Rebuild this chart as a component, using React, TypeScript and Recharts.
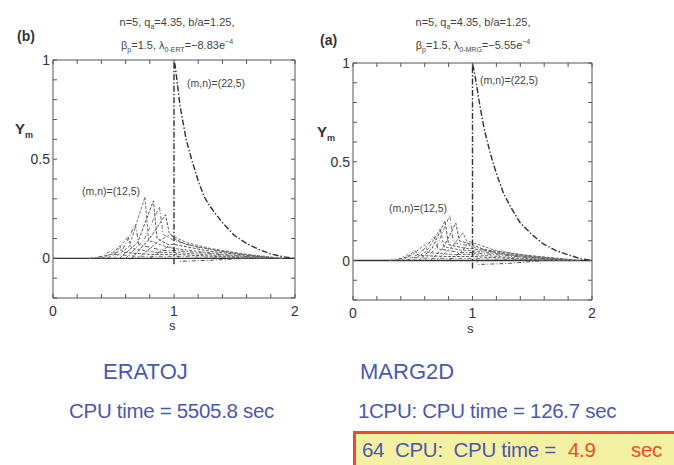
import { LineChart, Line, XAxis, YAxis, ReferenceLine } from "recharts"

type Pt = [number, number]

// axis ticks
const sTicks = [0, 0.2, 0.4, 0.6, 0.8, 1, 1.2, 1.4, 1.6, 1.8, 2]
const sLabels = [0, 1, 2]
const yTicks = [-0.2, -0.1, 0, 0.1, 0.2, 0.3, 0.4, 0.5, 0.6, 0.7, 0.8, 0.9, 1]
const yLabels = [0, 0.5, 1]

// ERATOJ (b): [s, Y_m]
const eraBig: Pt[] = [[1, -0.03], [1, 1], [1.01, 0.97], [1.05, 0.77], [1.1, 0.6], [1.15, 0.49], [1.2, 0.39], [1.25, 0.31], [1.3, 0.26], [1.4, 0.18], [1.5, 0.115], [1.6, 0.075], [1.7, 0.045], [1.8, 0.022], [1.9, 0.008], [2, 0]]
const eraM8: Pt[] = [[0.3, 0], [0.4, 0.01], [0.47, 0.035], [0.5, 0.02], [0.7, 0.01], [1, 0.01], [1.3, 0.005], [1.6, 0]]
const eraM9: Pt[] = [[0.35, 0], [0.48, 0.02], [0.55, 0.06], [0.58, 0.03], [0.8, 0.02], [1, 0.02], [1.4, 0.008], [1.7, 0]]
const eraM10: Pt[] = [[0.4, 0], [0.52, 0.03], [0.62, 0.11], [0.65, 0.05], [0.85, 0.03], [1, 0.03], [1.4, 0.012], [1.75, 0]]
const eraM11: Pt[] = [[0.45, 0], [0.58, 0.05], [0.68, 0.17], [0.71, 0.07], [0.9, 0.04], [1, 0.04], [1.4, 0.018], [1.8, 0]]
const eraM12: Pt[] = [[0.5, 0], [0.63, 0.06], [0.76, 0.31], [0.79, 0.09], [0.93, 0.06], [1, 0.05], [1.4, 0.02], [1.8, 0]]
const eraM13: Pt[] = [[0.55, 0], [0.7, 0.08], [0.83, 0.29], [0.86, 0.1], [0.95, 0.07], [1, 0.07], [1.3, 0.035], [1.6, 0.015], [1.85, 0]]
const eraM14: Pt[] = [[0.6, 0], [0.75, 0.09], [0.88, 0.26], [0.91, 0.12], [1, 0.09], [1.2, 0.055], [1.5, 0.025], [1.85, 0]]
const eraM15: Pt[] = [[0.65, 0], [0.8, 0.1], [0.93, 0.22], [0.96, 0.13], [1, 0.1], [1.1, 0.07], [1.4, 0.035], [1.7, 0.01], [1.9, 0]]
const eraM16: Pt[] = [[0.7, 0], [0.88, 0.09], [0.97, 0.12], [1, 0.11], [1.1, 0.08], [1.3, 0.05], [1.6, 0.02], [1.9, 0]]
const eraM17: Pt[] = [[0.8, 0], [0.95, 0.06], [1, 0.05], [1.05, -0.015], [1.3, -0.01], [1.6, 0]]

// MARG2D (a): [s, Y_m]
const mrgBig: Pt[] = [[1, -0.04], [1, 1], [1.02, 0.94], [1.06, 0.79], [1.1, 0.66], [1.15, 0.54], [1.2, 0.44], [1.26, 0.34], [1.32, 0.27], [1.4, 0.19], [1.5, 0.13], [1.59, 0.085], [1.7, 0.05], [1.82, 0.025], [1.9, 0.01], [2, 0]]
const mrgM8: Pt[] = [[0.3, 0], [0.4, 0.01], [0.45, 0.03], [0.48, 0.015], [0.7, 0.01], [1, 0.01], [1.3, 0.005], [1.6, 0]]
const mrgM9: Pt[] = [[0.35, 0], [0.46, 0.02], [0.52, 0.05], [0.55, 0.025], [0.8, 0.02], [1, 0.02], [1.4, 0.008], [1.7, 0]]
const mrgM10: Pt[] = [[0.4, 0], [0.5, 0.03], [0.6, 0.08], [0.63, 0.04], [0.85, 0.03], [1, 0.03], [1.4, 0.012], [1.75, 0]]
const mrgM11: Pt[] = [[0.45, 0], [0.57, 0.04], [0.68, 0.12], [0.71, 0.06], [0.9, 0.04], [1, 0.04], [1.4, 0.018], [1.8, 0]]
const mrgM12: Pt[] = [[0.5, 0], [0.62, 0.05], [0.73, 0.16], [0.76, 0.07], [0.92, 0.05], [1, 0.05], [1.4, 0.02], [1.8, 0]]
const mrgM13: Pt[] = [[0.55, 0], [0.66, 0.06], [0.77, 0.2], [0.8, 0.08], [0.95, 0.06], [1, 0.06], [1.3, 0.03], [1.8, 0]]
const mrgM14: Pt[] = [[0.6, 0], [0.7, 0.07], [0.81, 0.23], [0.84, 0.09], [1, 0.07], [1.2, 0.04], [1.5, 0.02], [1.85, 0]]
const mrgM15: Pt[] = [[0.65, 0], [0.76, 0.07], [0.86, 0.19], [0.89, 0.1], [1, 0.08], [1.1, 0.055], [1.4, 0.03], [1.9, 0]]
const mrgM16: Pt[] = [[0.7, 0], [0.83, 0.07], [0.92, 0.14], [0.95, 0.1], [1, 0.09], [1.2, 0.05], [1.5, 0.02], [1.9, 0]]
const mrgM17: Pt[] = [[0.8, 0], [0.92, 0.05], [0.96, 0.09], [1, 0.06], [1.05, -0.02], [1.3, -0.015], [1.6, 0]]

const eraModes = [eraM8, eraM9, eraM10, eraM11, eraM12, eraM13, eraM14, eraM15, eraM16, eraM17]
const mrgModes = [mrgM8, mrgM9, mrgM10, mrgM11, mrgM12, mrgM13, mrgM14, mrgM15, mrgM16, mrgM17]

const FONT = "Arial, 'Liberation Sans', Helvetica, sans-serif"
const BLUE = "#4c58ad"
const RED = "#ee4a2b"
const AX = "#555"

const near = (v: number, list: number[]) => list.some((l) => Math.abs(l - v) < 1e-6)

const toRows = (pts: Pt[]) => pts.map(([s, y]) => ({ s, y }))

function BottomTick(props: any) {
  const { x, y, payload } = props
  if (!near(payload.value, sLabels)) return <g />
  return (
    <text x={x} y={y + 22} textAnchor="middle" fontSize={14} fill="#333" fontFamily={FONT}>
      {payload.value}
    </text>
  )
}

function LeftTick(props: any) {
  const { x, y, payload } = props
  if (!near(payload.value, yLabels)) return <g />
  return (
    <text x={x - 7} y={y + 5} textAnchor="end" fontSize={14} fill="#333" fontFamily={FONT}>
      {payload.value}
    </text>
  )
}

const NoTick = () => <g />

const axisCommon = { stroke: AX, tickSize: -4, tickMargin: 0, interval: 0 as const, allowDataOverflow: true, tickLine: { stroke: AX } }

function Panel({ big, modes, left, top, width, height, mTop, mRight }: any) {
  return (
    <div style={{ position: "absolute", left, top }}>
      <LineChart width={width} height={height} margin={{ top: mTop, right: mRight, bottom: 0, left: 0 }}>
        <XAxis xAxisId="b" type="number" dataKey="s" domain={[0, 2]} ticks={sTicks} height={42} {...axisCommon} tick={<BottomTick />} />
        <XAxis xAxisId="t" orientation="top" type="number" dataKey="s" domain={[0, 2]} ticks={sTicks} height={1} {...axisCommon} tick={<NoTick />} />
        <YAxis yAxisId="l" type="number" domain={[-0.2, 1]} ticks={yTicks} width={53} {...axisCommon} tick={<LeftTick />} />
        <YAxis yAxisId="r" orientation="right" type="number" domain={[-0.2, 1]} ticks={yTicks} width={1} {...axisCommon} tick={<NoTick />} />
        <ReferenceLine xAxisId="b" yAxisId="l" y={0} stroke="#333" strokeWidth={1.3} />
        {modes.map((pts: Pt[], i: number) => (
          <Line key={i} xAxisId="b" yAxisId="l" data={toRows(pts)} dataKey="y" type="linear"
            stroke={i % 2 ? "#555" : "#777"} strokeWidth={1} strokeDasharray={i % 3 === 0 ? "4 2 1 2" : "3 1.5"}
            dot={false} isAnimationActive={false} />
        ))}
        <Line xAxisId="b" yAxisId="l" data={toRows(big)} dataKey="y" type="linear"
          stroke="#333" strokeWidth={1.4} strokeDasharray="6 2 1.5 2" dot={false} isAnimationActive={false} />
      </LineChart>
    </div>
  )
}

const abs = (left: number, top: number, extra: any = {}) => ({ position: "absolute" as const, left, top, fontFamily: FONT, whiteSpace: "pre" as const, ...extra })

function Title({ cx, sub }: { cx: number; sub: string }) {
  const st = { fontSize: 11, color: "#444", width: 200, textAlign: "center" as const, lineHeight: "14px" }
  return (
    <>
      <div style={abs(cx - 100, 15, st)}>n=5, q<sub style={{ fontSize: 7 }}>a</sub>=4.35, b/a=1.25,</div>
      <div style={abs(cx - 100, 35, st)}>
        β<sub style={{ fontSize: 7 }}>p</sub>=1.5, λ<sub style={{ fontSize: 7 }}>{sub}</sub>=−{sub === "0-ERT" ? "8.83" : "5.55"}e<sup style={{ fontSize: 7 }}>−4</sup>
      </div>
    </>
  )
}

export default function App() {
  const ann = { fontSize: 10.5, color: "#444", lineHeight: "12px" }
  const ylab = { fontSize: 15, fontWeight: 700, color: "#333", lineHeight: "18px" }
  const big = { fontSize: 22, color: BLUE, lineHeight: "24px" }
  const mid = { fontSize: 20.5, color: BLUE, lineHeight: "22px", letterSpacing: "-0.3px" }
  return (
    <div style={{ position: "absolute", left: 0, top: 0, width: 674, height: 465, background: "#fff", overflow: "hidden" }}>
      <Panel big={eraBig} modes={eraModes} left={0} top={0} width={310} height={340} mTop={59} mRight={14} />
      <Panel big={mrgBig} modes={mrgModes} left={300} top={0} width={310} height={342} mTop={62} mRight={17} />

      <Title cx={177} sub="0-ERT" />
      <Title cx={473} sub="0-MRG" />
      <div style={abs(17, 28, { fontSize: 14, fontWeight: 700, color: "#333" })}>(b)</div>
      <div style={abs(320, 32, { fontSize: 14, fontWeight: 700, color: "#333" })}>(a)</div>

      <div style={abs(15, 120, ylab)}>Y<sub style={{ fontSize: 9 }}>m</sub></div>
      <div style={abs(317, 123, ylab)}>Y<sub style={{ fontSize: 9 }}>m</sub></div>

      <div style={abs(169, 318, { fontSize: 13, color: "#333" })}>s</div>
      <div style={abs(467, 321, { fontSize: 13, color: "#333" })}>s</div>

      <div style={abs(187, 77, ann)}>(m,n)=(22,5)</div>
      <div style={abs(480, 74, ann)}>(m,n)=(22,5)</div>
      <div style={abs(82, 185, ann)}>(m,n)=(12,5)</div>
      <div style={abs(389, 202, ann)}>(m,n)=(12,5)</div>

      <div style={abs(103, 360, big)}>ERATOJ</div>
      <div style={abs(69, 400, mid)}>CPU time = 5505.8 sec</div>
      <div style={abs(360, 360, big)}>MARG2D</div>
      <div style={abs(358, 400, mid)}>1CPU: CPU time = 126.7 sec</div>

      <div style={{ position: "absolute", left: 353, top: 431, width: 340, height: 40, background: "#f5f1a3", border: `3px solid ${RED}`, boxSizing: "border-box" }} />
      <div style={abs(362, 439, mid)}>64  CPU:  CPU time = </div>
      <div style={abs(568, 439, { ...mid, color: RED })}>4.9</div>
      <div style={abs(631, 439, { ...mid, color: RED })}>sec</div>
    </div>
  )
}
